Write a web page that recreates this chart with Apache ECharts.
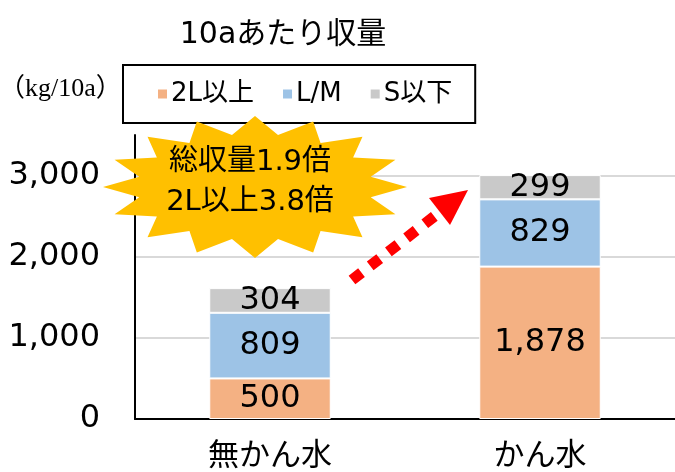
<!DOCTYPE html>
<html>
<head>
<meta charset="utf-8">
<script src="https://cdn.jsdelivr.net/npm/echarts@6/dist/echarts.min.js"></script>
<style>
  html, body { margin: 0; padding: 0; background: #fff; }
  #chart { width: 675px; height: 472px; }
</style>
</head>
<body>
<div id="chart"></div>
<script>
  // データ
  const categories = ['無かん水', 'かん水']
  const seriesNames = ['2L以上', 'L/M', 'S以下']
  const size2L = [500, 1878]
  const sizeLM = [809, 829]
  const sizeS = [304, 299]
  const yTicks = [0, 1000, 2000, 3000]

  const FONT = "'DejaVu Sans', 'Noto Sans CJK JP', sans-serif"
  const colors = ['#F4B183', '#9DC3E6', '#C9C9C9']

  const chart = echarts.init(document.getElementById('chart'))

  // 星型（爆発）の飾り
  const starPoints = () => {
    const pts = []
    const n = 16
    const cx = 255, cy = 187
    for (let i = 0; i < n * 2; i++) {
      const a = (Math.PI * i) / n
      const outer = i % 2 === 0
      const rx = outer ? 152 : 118
      const ry = outer ? 71 : 53
      pts.push([cx + rx * Math.cos(a), cy - ry * Math.sin(a)])
    }
    return pts
  }

  const fmt = v => Number(v).toLocaleString('en-US')

  const makeSeries = (name, data, idx) => ({
    name: name,
    type: 'bar',
    stack: 'total',
    barWidth: '45%',
    data: data,
    itemStyle: { color: colors[idx], borderColor: '#fff', borderWidth: 1 },
    label: {
      show: true,
      position: 'inside',
      color: '#000',
      fontFamily: FONT,
      fontSize: 32,
      formatter: p => fmt(p.value)
    }
  })

  const option = {
    animation: false,
    backgroundColor: '#fff',
    title: {
      text: '10aあたり収量',
      left: 278,
      top: 15,
      textAlign: 'center',
      textStyle: { fontFamily: FONT, fontSize: 30, fontWeight: 'normal', color: '#000' }
    },
    legend: {
      data: seriesNames,
      left: 123,
      top: 65,
      orient: 'horizontal',
      icon: 'rect',
      itemWidth: 11,
      itemHeight: 11,
      itemGap: 27,
      padding: [13, 23, 13, 33],
      borderColor: '#000',
      borderWidth: 2,
      borderRadius: 0,
      textStyle: { fontFamily: FONT, fontSize: 26, color: '#000', lineHeight: 32, padding: [0, 0, 0, -2] }
    },
    grid: { left: 135, right: 0, top: 135, bottom: 50, containLabel: false },
    xAxis: {
      type: 'category',
      data: categories,
      axisLine: { show: true, lineStyle: { color: '#000', width: 2 } },
      axisTick: { show: false },
      axisLabel: { color: '#000', fontFamily: FONT, fontSize: 31, margin: 22 }
    },
    yAxis: {
      type: 'value',
      min: 0,
      max: 3500,
      interval: 1000,
      axisLine: { show: true, lineStyle: { color: '#000', width: 2 } },
      axisTick: { show: false },
      axisLabel: {
        color: '#000',
        fontFamily: FONT,
        fontSize: 32,
        margin: 35,
        formatter: v => (yTicks.indexOf(v) >= 0 ? fmt(v) : '')
      },
      splitLine: { show: true, showMaxLine: false, lineStyle: { color: '#D9D9D9', width: 2 } }
    },
    series: [
      makeSeries(seriesNames[0], size2L, 0),
      makeSeries(seriesNames[1], sizeLM, 1),
      makeSeries(seriesNames[2], sizeS, 2)
    ],
    graphic: [
      {
        type: 'text',
        left: -1,
        top: 76,
        z: 100,
        style: {
          text: '（kg/10a）',
          fontFamily: "'Liberation Serif', 'Noto Sans CJK JP', serif",
          fontSize: 26,
          fill: '#000'
        }
      },
      {
        type: 'polygon',
        z: 100,
        shape: { points: starPoints() },
        style: { fill: '#FFC000', stroke: null }
      },
      {
        type: 'text',
        z: 101,
        x: 250,
        y: 182,
        style: {
          text: '総収量1.9倍\n2L以上3.8倍',
          fontFamily: FONT,
          fontSize: 29,
          fill: '#000',
          align: 'center',
          verticalAlign: 'middle',
          lineHeight: 40
        }
      },
      {
        // 点線の矢印
        type: 'line',
        z: 100,
        shape: { x1: 352, y1: 280, x2: 440, y2: 212 },
        style: { stroke: '#FF0000', lineWidth: 11, lineDash: [12, 11], lineCap: 'butt' }
      },
      {
        type: 'polygon',
        z: 100,
        shape: { points: [[468, 190], [429, 198], [450, 225]] },
        style: { fill: '#FF0000' }
      }
    ]
  }

  chart.setOption(option)
</script>
</body>
</html>
